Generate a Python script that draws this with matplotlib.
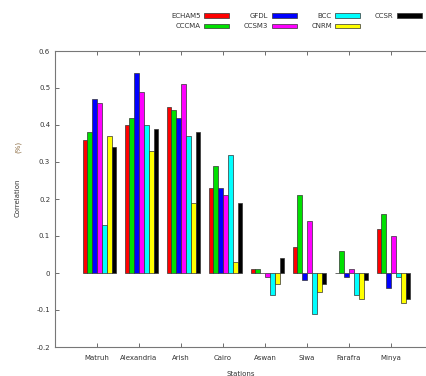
import numpy as np
import matplotlib
matplotlib.use("Agg")
import matplotlib.pyplot as plt

stations = ["Matruh", "Alexandria", "Arish", "Cairo", "Aswan", "Siwa", "Farafra", "Minya"]
models = ["ECHAM5", "CCCMA", "GFDL", "CCSM3", "BCC", "CNRM", "CCSR"]
colors = ["#ff0000", "#00e000", "#0000ff", "#ff00ff", "#00ffff", "#ffff00", "#000000"]

echam5 = [0.36, 0.40, 0.45, 0.23, 0.01, 0.07, 0.00, 0.12]
cccma = [0.38, 0.42, 0.44, 0.29, 0.01, 0.21, 0.06, 0.16]
gfdl = [0.47, 0.54, 0.42, 0.23, 0.00, -0.02, -0.01, -0.04]
ccsm3 = [0.46, 0.49, 0.51, 0.21, -0.01, 0.14, 0.01, 0.10]
bcc = [0.13, 0.40, 0.37, 0.32, -0.06, -0.11, -0.06, -0.01]
cnrm = [0.37, 0.33, 0.19, 0.03, -0.03, -0.05, -0.07, -0.08]
ccsr = [0.34, 0.39, 0.38, 0.19, 0.04, -0.03, -0.02, -0.07]
series = [echam5, cccma, gfdl, ccsm3, bcc, cnrm, ccsr]

fig = plt.figure(figsize=(4.26, 3.76), dpi=100)
ax = fig.add_axes([55/426, 1-347/376, 1-55/426, (347-51)/376])

x = np.arange(1, len(stations)+1)
w = 0.115
for j, (vals, c, name) in enumerate(zip(series, colors, models)):
    ax.bar(x + (j-3)*w + 0.06, vals, width=w, color=c, edgecolor="#333333",
           linewidth=0.5, label=name)

ax.set_xlim(0, 371/42)
ax.set_ylim(-0.2, 0.6)
ax.set_xticks(x)
ax.set_xticklabels(stations)
ax.set_yticks(np.arange(-0.2, 0.61, 0.1))
ax.set_yticklabels(["-0.2", "-0.1", "0", "0.1", "0.2", "0.3", "0.4", "0.5", "0.6"])
ax.tick_params(direction="in", labelsize=5, colors="#555555", labelcolor="#333333",
               top=True, length=3, width=0.6)
ax.tick_params(axis="x", pad=6)
for s in ["left", "bottom", "top"]:
    ax.spines[s].set_color("#777777")
    ax.spines[s].set_linewidth(0.8)
ax.spines["right"].set_visible(False)

ax.set_xlabel("Stations", fontsize=5, color="#333333", labelpad=7)
fig.text(18/426, 1-198/376, "Correlation", rotation=90, fontsize=5, color="#333333",
         ha="center", va="center")
fig.text(18/426, 1-147/376, "(%)", rotation=90, fontsize=5, color="#8a6a40",
         ha="center", va="center")

leg = ax.legend(ncol=4, loc="upper left", bbox_to_anchor=(165/426, 1-7/376),
                bbox_transform=fig.transFigure, fontsize=5, markerfirst=False,
                frameon=False, handlelength=3.6, handleheight=0.7,
                columnspacing=2.1, labelspacing=0.6, handletextpad=0.5)
for t in leg.get_texts():
    t.set_color("#333333")

fig.savefig("out.png", dpi=100)
